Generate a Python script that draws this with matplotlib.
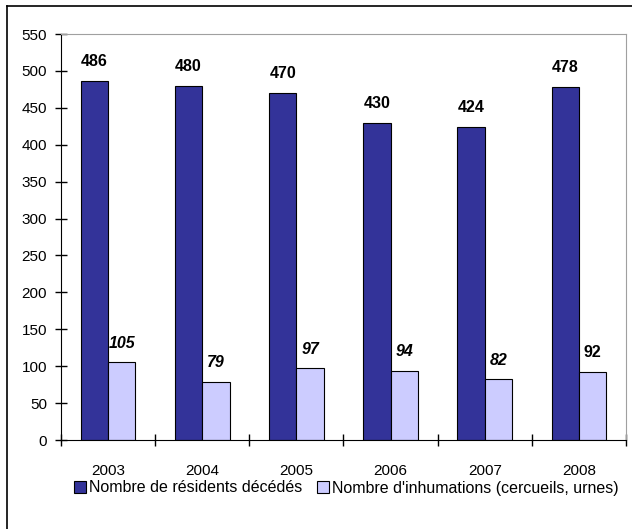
import numpy as np
import matplotlib.pyplot as plt
from matplotlib.lines import Line2D

plt.rcParams['font.family'] = ['Liberation Sans', 'DejaVu Sans']

annees = ['2003', '2004', '2005', '2006', '2007', '2008']
deces = [486, 480, 470, 430, 424, 478]
inhumations = [105, 79, 97, 94, 82, 92]
inhum_italique = [True, True, True, True, True, False]
noms = ['Nombre de résidents décédés', "Nombre d'inhumations (cercueils, urnes)"]

fig = plt.figure(figsize=(6.32, 5.29), dpi=100)
ax = fig.add_axes([61 / 632, 1 - 440 / 529, 565 / 632, 406 / 529])

x = np.arange(len(annees))
w = 0.29
ax.bar(x - w / 2, deces, w, color='#333399', edgecolor='black', linewidth=0.8, label=noms[0])
ax.bar(x + w / 2, inhumations, w, color='#ccccff', edgecolor='black', linewidth=0.8, label=noms[1])

for xi, v in zip(x, deces):
    ax.text(xi - w / 2, v + 16, str(v), ha='center', va='bottom', fontsize=11.5,
            fontweight='bold')
for xi, v, it in zip(x, inhumations, inhum_italique):
    ax.text(xi + w / 2, v + 16, str(v), ha='center', va='bottom', fontsize=11.5,
            fontweight='bold', fontstyle='italic' if it else 'normal')

ax.set_xlim(-0.5, len(annees) - 0.5)
ax.set_ylim(0, 550)
ax.set_yticks(np.arange(0, 551, 50))
ax.set_xticks(np.arange(-0.5, len(annees), 1))
ax.set_xticklabels([])
ax.set_xticks(x, minor=True)
ax.set_xticklabels(annees, minor=True)
ax.tick_params(axis='x', which='minor', length=0, pad=17, labelsize=11)
ax.tick_params(axis='x', which='major', direction='inout', length=8, width=1)
ax.tick_params(axis='y', direction='inout', length=8, width=1, labelsize=11, pad=6)

ax.spines['top'].set_color('#a0a0a0')
ax.spines['right'].set_color('#a0a0a0')
ax.spines['left'].set_color('black')
ax.spines['bottom'].set_color('black')

fig.legend(loc='center', bbox_to_anchor=(0.548, 1 - 488 / 529), ncol=2, frameon=False,
           fontsize=11.5, handlelength=0.75, handleheight=0.75, handletextpad=0.2,
           columnspacing=0.9)

# cadre extérieur (gauche et haut seulement)
fig.add_artist(Line2D([7 / 632, 7 / 632], [0, 1 - 6 / 529], color='black', lw=1.2, transform=fig.transFigure))
fig.add_artist(Line2D([7 / 632, 1], [1 - 6 / 529, 1 - 6 / 529], color='black', lw=1.2, transform=fig.transFigure))

fig.savefig('out.png', dpi=100)
